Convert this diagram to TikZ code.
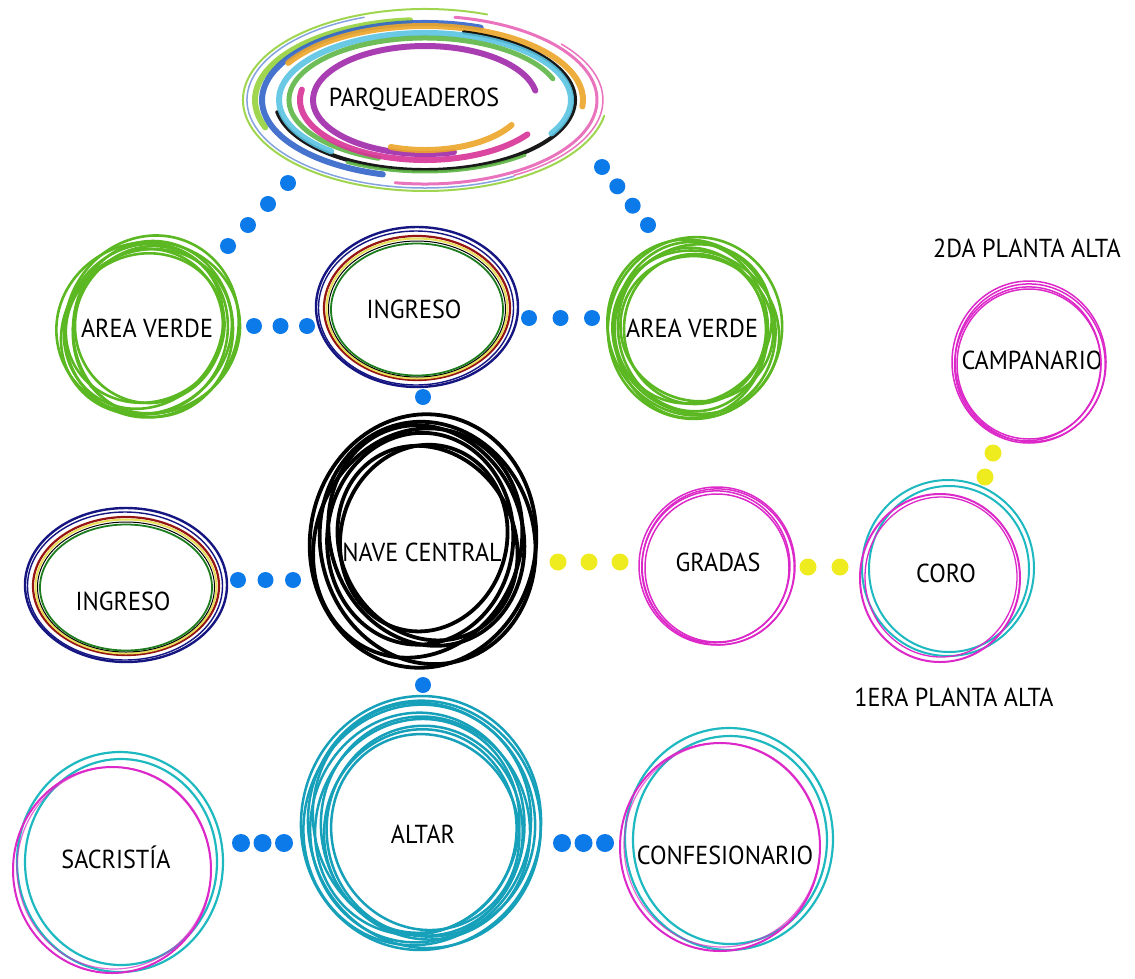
\documentclass[tikz,border=0pt]{standalone}
\usepackage{fontspec}
\setmainfont[FakeStretch=0.93]{PT Sans}
\definecolor{dotblue}{RGB}{12,122,232}
\definecolor{doty}{RGB}{238,236,30}
\definecolor{vgreen}{RGB}{92,184,34}
\definecolor{teal1}{RGB}{22,160,186}
\definecolor{cyan1}{RGB}{30,184,192}
\definecolor{mag1}{RGB}{220,40,200}
\definecolor{navy1}{RGB}{22,22,130}
\definecolor{dred}{RGB}{150,20,20}
\definecolor{yring}{RGB}{232,222,90}
\definecolor{gring}{RGB}{30,125,30}
\definecolor{lime1}{RGB}{150,210,60}
\definecolor{pink1}{RGB}{232,100,182}
\definecolor{orange1}{RGB}{236,165,40}
\definecolor{blue1}{RGB}{50,100,200}
\definecolor{sky1}{RGB}{90,195,225}
\definecolor{green2}{RGB}{95,182,70}
\definecolor{violet1}{RGB}{160,40,170}
\definecolor{hotmag}{RGB}{215,50,150}
\begin{document}
\begin{tikzpicture}[x=1pt,y=-1pt,
  lbl/.style={font=\fontsize{26}{29}\selectfont, inner sep=0pt, text=black},
  bdot/.style={circle, fill=dotblue, inner sep=0pt, minimum size=16pt},
  bigdot/.style={circle, fill=dotblue, inner sep=0pt, minimum size=18pt},
  ydot/.style={circle, fill=doty, inner sep=0pt, minimum size=17pt},
  greenring/.style={draw=vgreen, line width=2.6pt},
  blackring/.style={draw=black, line width=3.8pt},
  tealring/.style={draw=teal1, line width=2.5pt},
  magring/.style={draw=mag1, line width=1.5pt},
  swirl/.style={line width=#1, line cap=round, opacity=0.9}
]
\useasboundingbox (0,0) rectangle (1135,978);

% ---------- label nodes ----------
\node[lbl] (park) at (414,100) {PARQUEADEROS};
\node[lbl] (avl) at (147,328) {AREA VERDE};
\node[lbl] (ingt) at (414,309) {INGRESO};
\node[lbl] (avr) at (692,328) {AREA VERDE};
\node[lbl] (nave) at (422,552) {NAVE CENTRAL};
\node[lbl] (ingl) at (123,601) {INGRESO};
\node[lbl] (gradas) at (718,562) {GRADAS};
\node[lbl] (coro) at (946,573) {CORO};
\node[lbl] (camp) at (1032,360) {CAMPANARIO};
\node[lbl] (p2) at (1027,248) {2DA PLANTA ALTA};
\node[lbl] (p1) at (954,697) {1ERA PLANTA ALTA};
\node[lbl] (sacr) at (116,857) {SACRISTÍA};
\node[lbl] (altar) at (423,834) {ALTAR};
\node[lbl] (conf) at (725,855) {CONFESIONARIO};

% ---------- centres of the ring drawings ----------
\coordinate (cpark) at (425,100);
\coordinate (cavl) at (148,327);
\coordinate (cingt) at (417,307);
\coordinate (cavr) at (695,328);
\coordinate (cnave) at (423,541);
\coordinate (cingl) at (126,585);
\coordinate (caltar) at (421,823);
\coordinate (csacr) at (120,862);
\coordinate (cconf) at (729,839);
\coordinate (cgradas) at (717,566);
\coordinate (ccoro) at (948,568);
\coordinate (ccamp) at (1029,362);

% ---------- parqueaderos swirl ----------
\begin{scope}[shift={(cpark)}]
  \draw[swirl=2pt, lime1] (70:182pt and 91pt) arc[start angle=70, end angle=350, x radius=182pt, y radius=91pt];
  \draw[swirl=1.5pt, blue1, opacity=0.6] (110:178pt and 88pt) arc[start angle=110, end angle=300, x radius=178pt, y radius=88pt];
  \draw[swirl=3pt, pink1] (80:172pt and 84pt) arc[start angle=80, end angle=-100, x radius=172pt, y radius=84pt];
  \draw[swirl=1.5pt, pink1] (40:178pt and 87pt) arc[start angle=40, end angle=-60, x radius=178pt, y radius=87pt];
  \draw[swirl=6pt, lime1] (95:170pt and 80pt) arc[start angle=95, end angle=200, x radius=170pt, y radius=80pt];
  \draw[swirl=6pt, blue1] (70:163pt and 77pt) arc[start angle=70, end angle=255, x radius=163pt, y radius=77pt];
  \draw[swirl=6pt, orange1] (150:158pt and 74pt) arc[start angle=150, end angle=-5, x radius=158pt, y radius=74pt];
  \draw[swirl=4pt, black] (75:150pt and 70pt) arc[start angle=75, end angle=-170, x radius=150pt, y radius=70pt];
  \draw[swirl=6pt, sky1] (-30:146pt and 67pt) arc[start angle=-30, end angle=230, x radius=146pt, y radius=67pt];
  \draw[swirl=3pt, green2] (-50:156pt and 72pt) arc[start angle=-50, end angle=-120, x radius=156pt, y radius=72pt];
  \draw[swirl=5pt, green2] (20:136pt and 62pt) arc[start angle=20, end angle=250, x radius=136pt, y radius=62pt];
  \draw[swirl=6pt, hotmag] (170:125pt and 60pt) arc[start angle=170, end angle=325, x radius=125pt, y radius=60pt];
  \draw[swirl=6pt, violet1] (10:112pt and 54pt) arc[start angle=10, end angle=285, x radius=112pt, y radius=54pt];
  \draw[swirl=6pt, orange1] (-30:100pt and 50pt) arc[start angle=-30, end angle=-110, x radius=100pt, y radius=50pt];
\end{scope}

% ---------- area verde (left) ----------
\begin{scope}[shift={(cavl)}]
  \foreach \rx/\ry/\rot/\dx/\dy in {92/86/10/0/1, 86/92/-25/3/-2, 88/80/35/-4/3, 80/88/0/5/2, 85/77/55/-2/-4, 77/84/-15/3/2, 80/74/20/-3/0, 74/77/0/1/-1}
    \draw[greenring, rotate=\rot] (\dx,\dy) ellipse[x radius=\rx pt, y radius=\ry pt];
\end{scope}
% ---------- area verde (right) ----------
\begin{scope}[shift={(cavr)}]
  \foreach \rx/\ry/\rot/\dx/\dy in {87/91/-10/0/0, 83/89/25/-3/-2, 85/80/-35/3/3, 77/88/0/-4/2, 82/76/50/2/-4, 74/82/10/-3/1, 77/72/-20/2/0, 71/75/0/0/1}
    \draw[greenring, rotate=\rot] (\dx,\dy) ellipse[x radius=\rx pt, y radius=\ry pt];
\end{scope}

% ---------- ingreso rings ----------
\foreach \c/\ry in {cingt/80, cingl/77}{
  \begin{scope}[shift={(\c)}]
    \draw[navy1, line width=2.4pt] (0,0) ellipse[x radius=101pt, y radius=\ry pt];
    \draw[navy1, line width=1.4pt] (-1,1) ellipse[x radius=97.5pt, y radius=\ry pt-3pt];
    \draw[dred, line width=2.2pt] (0,1) ellipse[x radius=93pt, y radius=\ry pt-8pt];
    \draw[yring, line width=2pt] (0,1.5) ellipse[x radius=90.5pt, y radius=\ry pt-10pt];
    \draw[black, line width=1pt] (0,2) ellipse[x radius=88.5pt, y radius=\ry pt-12pt];
    \draw[gring, line width=1.8pt] (0,2.5) ellipse[x radius=86pt, y radius=\ry pt-14pt];
  \end{scope}
}

% ---------- nave central ----------
\begin{scope}[shift={(cnave)}]
  \foreach \rx/\ry/\rot/\dx/\dy in {113/127/-8/0/0, 107/122/14/4/3, 102/117/-24/-4/4, 96/112/20/5/-4, 93/106/-5/-3/-2, 87/100/28/3/4, 83/94/-15/0/-3}
    \draw[blackring, rotate=\rot] (\dx,\dy) ellipse[x radius=\rx pt, y radius=\ry pt];
\end{scope}

% ---------- altar ----------
\begin{scope}[shift={(caltar)}]
  \foreach \rx/\ry/\rot/\dx/\dy in {120/127/-5/0/0, 116/124/12/3/2, 113/121/-18/-3/3, 110/118/22/4/-2, 107/115/-8/-3/5, 104/112/15/3/6, 101/109/-22/-2/5, 98/105/5/3/8, 96/102/-12/1/8, 93/99/25/0/10}
    \draw[tealring, rotate=\rot] (\dx,\dy) ellipse[x radius=\rx pt, y radius=\ry pt];
\end{scope}

% ---------- sacristia ----------
\begin{scope}[shift={(csacr)}]
  \draw[cyan1, line width=2.2pt] (0,0) ellipse[x radius=103pt, y radius=110pt];
  \draw[cyan1, line width=2.2pt] (1,0) ellipse[x radius=96pt, y radius=103pt];
  \draw[mag1, line width=2pt] (-8,8) ellipse[x radius=99pt, y radius=103pt];
  \draw[mag1, line width=1.2pt, opacity=0.7] (-6,6) ellipse[x radius=97pt, y radius=101pt];
\end{scope}
% ---------- confesionario ----------
\begin{scope}[shift={(cconf)}]
  \draw[cyan1, line width=2.2pt] (0,0) ellipse[x radius=104pt, y radius=111pt];
  \draw[cyan1, line width=2.2pt] (1,1) ellipse[x radius=97pt, y radius=104pt];
  \draw[mag1, line width=2pt] (-9,8) ellipse[x radius=100pt, y radius=104pt];
  \draw[mag1, line width=1.2pt, opacity=0.7] (-7,6) ellipse[x radius=98pt, y radius=102pt];
\end{scope}
% ---------- gradas ----------
\begin{scope}[shift={(cgradas)}]
  \foreach \rx/\ry/\rot/\dx/\dy in {78/79/0/0/0, 76/78/10/1/1, 74/76/-10/-1/1, 72/74/0/0/2}
    \draw[magring, rotate=\rot] (\dx,\dy) ellipse[x radius=\rx pt, y radius=\ry pt];
\end{scope}
% ---------- coro ----------
\begin{scope}[shift={(ccoro)}]
  \draw[cyan1, line width=2pt] (0,0) ellipse[x radius=86pt, y radius=88pt];
  \draw[cyan1, line width=2pt] (1,1) ellipse[x radius=80pt, y radius=83pt];
  \draw[mag1, line width=2pt] (-8,10) ellipse[x radius=80pt, y radius=84pt];
  \draw[mag1, line width=1.3pt] (-7,9) ellipse[x radius=76pt, y radius=80pt];
\end{scope}
% ---------- campanario ----------
\begin{scope}[shift={(ccamp)}]
  \foreach \rx/\ry/\rot/\dx/\dy in {77/81/0/0/0, 75/79/8/1/1, 73/77/-8/-1/2, 72/75/0/0/2}
    \draw[magring, rotate=\rot] (\dx,\dy) ellipse[x radius=\rx pt, y radius=\ry pt];
\end{scope}

% ---------- dotted connectors ----------
\coordinate (a1) at (288,183); \coordinate (a2) at (228,246);
\coordinate (b1) at (602,167); \coordinate (b2) at (648,225);
\coordinate (c1) at (254,326); \coordinate (c2) at (307,326);
\coordinate (d1) at (529,318); \coordinate (d2) at (592,318);
\coordinate (e1) at (423,397);
\coordinate (f1) at (423,685);
\coordinate (g1) at (238,580); \coordinate (g2) at (293,580);
\coordinate (h1) at (241,843); \coordinate (h2) at (284,843);
\coordinate (i1) at (562,843); \coordinate (i2) at (605,843);
\coordinate (j1) at (558,562); \coordinate (j2) at (620,562);
\coordinate (k1) at (808,567); \coordinate (k2) at (840,567);
\coordinate (l1) at (993,453); \coordinate (l2) at (985,477);

\path (a1) -- (a2) node[bdot,pos=0]{} node[bdot,pos=0.333]{} node[bdot,pos=0.667]{} node[bdot,pos=1]{};
\path (b1) -- (b2) node[bdot,pos=0]{} node[bdot,pos=0.333]{} node[bdot,pos=0.667]{} node[bdot,pos=1]{};
\path (c1) -- (c2) node[bdot,pos=0]{} node[bdot,pos=0.5]{} node[bdot,pos=1]{};
\path (d1) -- (d2) node[bdot,pos=0]{} node[bdot,pos=0.5]{} node[bdot,pos=1]{};
\node[bdot] (e) at (e1) {};
\node[bdot] (f) at (f1) {};
\path (g1) -- (g2) node[bdot,pos=0]{} node[bdot,pos=0.5]{} node[bdot,pos=1]{};
\path (h1) -- (h2) node[bigdot,pos=0]{} node[bigdot,pos=0.5]{} node[bigdot,pos=1]{};
\path (i1) -- (i2) node[bigdot,pos=0]{} node[bigdot,pos=0.5]{} node[bigdot,pos=1]{};
\path (j1) -- (j2) node[ydot,pos=0]{} node[ydot,pos=0.5]{} node[ydot,pos=1]{};
\path (k1) -- (k2) node[ydot,pos=0]{} node[ydot,pos=1]{};
\path (l1) -- (l2) node[ydot,pos=0]{} node[ydot,pos=1]{};
\end{tikzpicture}
\end{document}
